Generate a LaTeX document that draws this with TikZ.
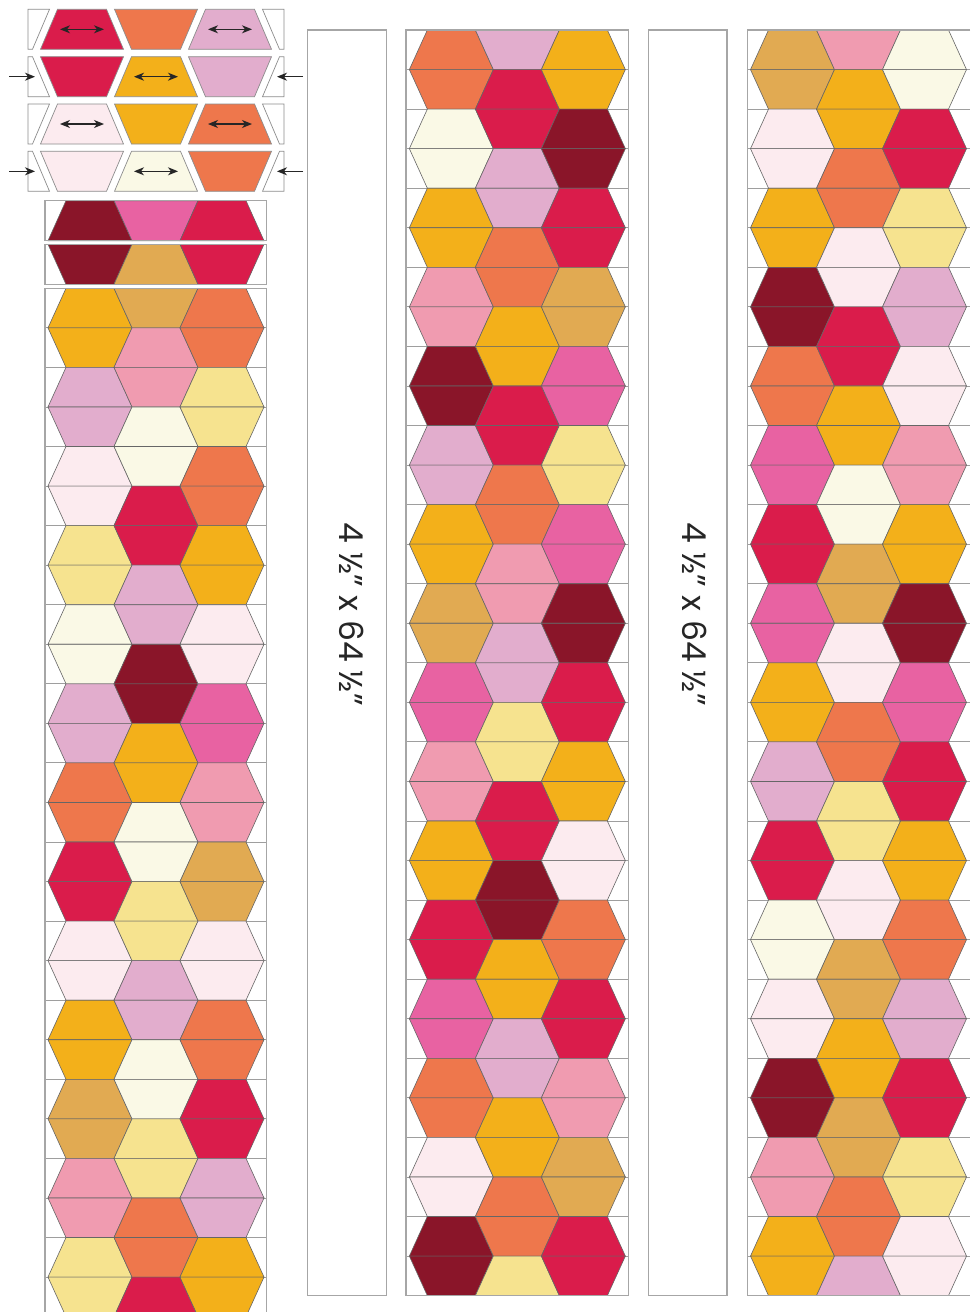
\documentclass[tikz,border=0pt]{standalone}
\usepackage{fontspec}
\newfontfamily\dimfont{Poppins}
\usetikzlibrary{arrows.meta}
\definecolor{qdkred}{HTML}{8A1529}
\definecolor{qred}{HTML}{DA1C4B}
\definecolor{qhot}{HTML}{E862A2}
\definecolor{qpink}{HTML}{F09BB0}
\definecolor{qmauve}{HTML}{E2ADCD}
\definecolor{qpale}{HTML}{FCEBEF}
\definecolor{qcream}{HTML}{FAF9E6}
\definecolor{qyel}{HTML}{F6E38F}
\definecolor{qgold}{HTML}{F3B01A}
\definecolor{qtan}{HTML}{E1AA52}
\definecolor{qorg}{HTML}{EE774C}
\tikzset{
 hexedge/.style={draw=black!60, line width=0.6pt},
 rowline/.style={draw=black!38, line width=0.9pt},
 boxline/.style={draw=black!35, line width=1.2pt},
 piece/.style={draw=black!45, line width=0.7pt},
 darrow/.style={{Stealth[length=10pt,width=8pt,inset=3pt]}-{Stealth[length=10pt,width=8pt,inset=3pt]}, line width=1.2pt, draw=black!85},
 sarrow/.style={-{Stealth[length=10pt,width=8pt,inset=3pt]}, line width=1.1pt, draw=black!85},
 dimtext/.style={font=\dimfont\fontsize{33}{33}\selectfont, rotate=-90, anchor=base, text=black!85}
}
\def\rh{39.55}
\newcommand\uph[4]{\filldraw[hexedge,fill=#4] ({#1-24},{#2}) -- ({#1+24},{#2}) -- ({#1+42},{#3}) -- ({#1-42},{#3}) -- cycle;}
\newcommand\loh[4]{\filldraw[hexedge,fill=#4] ({#1-42},{#2}) -- ({#1+42},{#2}) -- ({#1+24},{#3}) -- ({#1-24},{#3}) -- cycle;}
\newcommand\fhex[3]{\pgfmathsetmacro\qya{#2}\pgfmathsetmacro\qym{#2+\rh}\pgfmathsetmacro\qyb{#2+2*\rh}\uph{#1}{\qya}{\qym}{#3}\loh{#1}{\qym}{\qyb}{#3}}
\newcommand\outerlane[3]{\foreach \c [count=\k from 0] in {#3}{\pgfmathsetmacro\qy{#2+2*\k*\rh}\fhex{#1}{\qy}{\c}}}
\newcommand\midlane[3]{\foreach \c [count=\k from 0] in {#3}{\pgfmathsetmacro\qy{#2+(2*\k+1)*\rh}\fhex{#1}{\qy}{\c}}}
\newcommand\rowlines[4]{\foreach \i in {0,...,#4}{\draw[rowline] (#1,{#3+\i*\rh}) -- (#2,{#3+\i*\rh});}}
% exploded pieces
\newcommand\pU[4]{\filldraw[piece,fill=#4] ({#1-24.5},{#2}) -- ({#1+24.5},{#2}) -- ({#1+41.5},{#3}) -- ({#1-41.5},{#3}) -- cycle;}
\newcommand\pL[4]{\filldraw[piece,fill=#4] ({#1-41.5},{#2}) -- ({#1+41.5},{#2}) -- ({#1+24.5},{#3}) -- ({#1-24.5},{#3}) -- cycle;}
\newcommand\prowU[5]{% yt yb c1 c2 c3 : outer pieces narrow top
 \filldraw[piece,fill=white] (28,{#1}) -- (49.5,{#1}) -- (32.5,{#2}) -- (28,{#2}) -- cycle;
 \pU{82}{#1}{#2}{#3}\pL{156}{#1}{#2}{#4}\pU{230}{#1}{#2}{#5}
 \filldraw[piece,fill=white] (262.5,{#1}) -- (284,{#1}) -- (284,{#2}) -- (279.5,{#2}) -- cycle;}
\newcommand\prowL[5]{%
 \filldraw[piece,fill=white] (28,{#1}) -- (32.5,{#1}) -- (49.5,{#2}) -- (28,{#2}) -- cycle;
 \pL{82}{#1}{#2}{#3}\pU{156}{#1}{#2}{#4}\pL{230}{#1}{#2}{#5}
 \filldraw[piece,fill=white] (279.5,{#1}) -- (284,{#1}) -- (284,{#2}) -- (262.5,{#2}) -- cycle;}
\begin{document}
\begin{tikzpicture}[x=1pt,y=-1pt]
\useasboundingbox (0,0) rectangle (979,1312);
\clip (0,0) rectangle (979,1312);
\fill[white] (0,0) rectangle (979,1312);
% ---------- exploded rows ----------
\prowU{9.3}{49.3}{qred}{qorg}{qmauve}
\prowL{56.7}{96.7}{qred}{qgold}{qmauve}
\prowU{104}{144}{qpale}{qgold}{qorg}
\prowL{151.3}{191.3}{qpale}{qcream}{qorg}
\coordinate (d1a) at (60,29.3);   \coordinate (d1b) at (104,29.3);
\coordinate (d2a) at (208,29.3);  \coordinate (d2b) at (252,29.3);
\coordinate (d3a) at (134,76.7);  \coordinate (d3b) at (178,76.7);
\coordinate (d4a) at (60,124);    \coordinate (d4b) at (104,124);
\coordinate (d5a) at (208,124);   \coordinate (d5b) at (252,124);
\coordinate (d6a) at (134,171.3); \coordinate (d6b) at (178,171.3);
\foreach \n in {1,...,6}{\draw[darrow] (d\n a) -- (d\n b);}
\coordinate (s1a) at (9,76.7);    \coordinate (s1b) at (35,76.7);
\coordinate (s2a) at (303,76.7);  \coordinate (s2b) at (277,76.7);
\coordinate (s3a) at (9,171.3);   \coordinate (s3b) at (35,171.3);
\coordinate (s4a) at (303,171.3); \coordinate (s4b) at (277,171.3);
\foreach \n in {1,...,4}{\draw[sarrow] (s\n a) -- (s\n b);}
% ---------- column 1 ----------
\uph{90}{200.7}{240.7}{qdkred}\loh{156}{200.7}{240.7}{qhot}\uph{222}{200.7}{240.7}{qred}
\draw[boxline] (45,200.7) rectangle (266.7,240.7);
\loh{90}{244.3}{284.3}{qdkred}\uph{156}{244.3}{284.3}{qtan}\loh{222}{244.3}{284.3}{qred}
\draw[boxline] (45,244.3) rectangle (266.7,284.3);
\rowlines{45}{266.7}{288.3}{26}
\outerlane{90}{288.3}{qgold,qmauve,qpale,qyel,qcream,qmauve,qorg,qred,qpale,qgold,qtan,qpink,qyel}
\loh{156}{288.3}{288.3+\rh}{qtan}
\midlane{156}{288.3}{qpink,qcream,qred,qmauve,qdkred,qgold,qcream,qyel,qmauve,qcream,qyel,qorg}
\uph{156}{288.3+25*\rh}{288.3+26*\rh}{qred}
\outerlane{222}{288.3}{qorg,qyel,qorg,qgold,qpale,qhot,qpink,qtan,qpale,qorg,qred,qmauve,qgold}
\draw[boxline] (45,1330) -- (45,288.3) -- (266.7,288.3) -- (266.7,1330);
% ---------- column 2 ----------
\rowlines{406}{628.7}{30}{32}
\outerlane{451.35}{30}{qorg,qcream,qgold,qpink,qdkred,qmauve,qgold,qtan,qhot,qpink,qgold,qred,qhot,qorg,qpale,qdkred}
\loh{517.35}{30}{30+\rh}{qmauve}
\midlane{517.35}{30}{qred,qmauve,qorg,qgold,qred,qorg,qpink,qmauve,qyel,qred,qdkred,qgold,qmauve,qgold,qorg}
\uph{517.35}{30+31*\rh}{30+32*\rh}{qyel}
\outerlane{583.35}{30}{qgold,qdkred,qred,qtan,qhot,qyel,qhot,qdkred,qred,qgold,qpale,qorg,qred,qpink,qtan,qred}
\draw[boxline] (406,30) rectangle (628.7,1295.7);
% ---------- column 4 ----------
\rowlines{747.3}{970}{30}{32}
\outerlane{792.5}{30}{qtan,qpale,qgold,qdkred,qorg,qhot,qred,qhot,qgold,qmauve,qred,qcream,qpale,qdkred,qpink,qgold}
\loh{858.5}{30}{30+\rh}{qpink}
\midlane{858.5}{30}{qgold,qorg,qpale,qred,qgold,qcream,qtan,qpale,qorg,qyel,qpale,qtan,qgold,qtan,qorg}
\uph{858.5}{30+31*\rh}{30+32*\rh}{qmauve}
\outerlane{924.5}{30}{qcream,qred,qyel,qmauve,qpale,qpink,qgold,qdkred,qhot,qred,qgold,qorg,qmauve,qred,qyel,qpale}
\draw[boxline] (970,30) -- (747.3,30) -- (747.3,1295.7) -- (970,1295.7);
% ---------- blank strips ----------
\draw[boxline] (307.3,30) rectangle (386.7,1295.7);
\draw[boxline] (648.3,30) rectangle (727,1295.7);
\node[dimtext] (lblA) at (339.5,614) {4 ½” x 64 ½”};
\node[dimtext] (lblB) at (682.5,614) {4 ½” x 64 ½”};
\end{tikzpicture}
\end{document}
